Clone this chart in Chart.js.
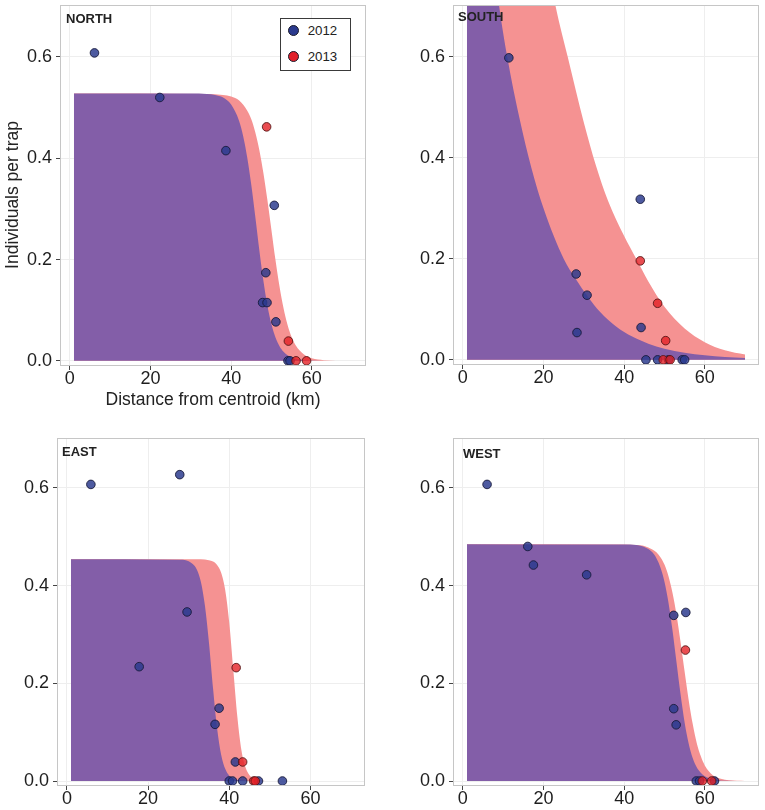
<!DOCTYPE html>
<html>
<head>
<meta charset="utf-8">
<script src="https://cdn.jsdelivr.net/npm/chart.js@4.4.1/dist/chart.umd.min.js"></script>
<style>
html,body{margin:0;padding:0;background:#fff;width:765px;height:810px;overflow:hidden;font-family:"Liberation Sans",Arial,Helvetica,sans-serif;}
.panel{position:absolute;}
.panel canvas{display:block;}
.plab{position:absolute;font-weight:bold;font-size:13px;line-height:13px;color:#222;white-space:nowrap;}
#ytitle{position:absolute;left:-88px;top:185px;width:200px;height:20px;line-height:20px;text-align:center;font-size:17.5px;color:#222;transform:rotate(-90deg);white-space:nowrap;}
#legend{position:absolute;left:280px;top:18px;width:71px;height:53px;border:1px solid #3a3a3a;box-sizing:border-box;background:#fff;}
.lgdot{position:absolute;width:11px;height:11px;border-radius:50%;box-sizing:border-box;border:1px solid #1a1a2a;}
.lgtxt{position:absolute;font-size:13.3px;line-height:16px;height:16px;color:#222;white-space:nowrap;}
</style>
</head>
<body>
<div class="panel" id="pN" style="left:0;top:0;width:380px;height:415px"><canvas id="cN"></canvas></div>
<div class="panel" id="pS" style="left:385px;top:0;width:380px;height:415px"><canvas id="cS"></canvas></div>
<div class="panel" id="pE" style="left:0;top:415px;width:380px;height:395px"><canvas id="cE"></canvas></div>
<div class="panel" id="pW" style="left:385px;top:415px;width:380px;height:395px"><canvas id="cW"></canvas></div>
<div id="ytitle"></div>
<div class="plab" id="labN" style="left:66px;top:12px"></div>
<div class="plab" id="labS" style="left:458px;top:10px"></div>
<div class="plab" id="labE" style="left:62px;top:445px"></div>
<div class="plab" id="labW" style="left:463px;top:447px"></div>
<div id="legend"></div>
<script>
// ---------- data ----------
const panelNames = ['NORTH', 'SOUTH', 'EAST', 'WEST'];
const seriesNames = ['2012', '2013'];
const xTicks = [0, 20, 40, 60];
const xTickLabels = ['0', '20', '40', '60'];
const yTicks = [0, 0.2, 0.4, 0.6];
const yTickLabels = ['0.0', '0.2', '0.4', '0.6'];
const xAxisTitle = 'Distance from centroid (km)';
const yAxisTitle = 'Individuals per trap';

// observed points [distance, individuals per trap]
const north2012 = [[6.1,0.608],[22.3,0.520],[38.7,0.415],[50.7,0.307],[48.6,0.174],[47.8,0.115],[48.9,0.115],[51.1,0.077],[54.1,0],[54.6,0]];
const north2013 = [[48.8,0.462],[54.2,0.039],[56.1,0],[58.7,0]];
const south2012 = [[11.4,0.598],[28.1,0.170],[30.8,0.128],[28.3,0.054],[44.0,0.318],[44.2,0.064],[45.4,0],[48.3,0],[51.0,0],[54.4,0],[55.0,0]];
const south2013 = [[44.0,0.196],[48.3,0.112],[50.3,0.038],[49.7,0],[51.4,0]];
const east2012 = [[5.9,0.607],[27.8,0.627],[29.6,0.346],[17.8,0.234],[37.5,0.149],[36.5,0.116],[41.5,0.039],[40.0,0],[40.8,0],[43.3,0],[47.2,0],[53.1,0]];
const east2013 = [[41.7,0.232],[43.3,0.039],[46.0,0],[46.4,0]];
const west2012 = [[6.0,0.607],[16.1,0.480],[17.5,0.442],[30.7,0.422],[52.3,0.339],[55.3,0.345],[52.3,0.148],[52.9,0.115],[57.9,0],[58.7,0],[62.4,0]];
const west2013 = [[55.2,0.268],[59.4,0],[61.7,0]];

// fitted curves
const northFit2012 = [[1,0.528],[30,0.528],[34,0.527],[36,0.525],[38,0.520],[40,0.506],[42,0.473],[43,0.443],[44,0.401],[45,0.347],[46,0.284],[47,0.218],[48,0.158],[49,0.109],[50,0.072],[51,0.046],[52,0.029],[53,0.018],[54,0.011],[56,0.004],[58,0.0015],[60,0.0005],[65,0.0001],[70,0]];
const northFit2013 = [[1,0.528],[34,0.527],[38,0.525],[40,0.522],[42,0.514],[44,0.494],[45,0.477],[46,0.451],[47,0.416],[48,0.371],[49,0.317],[50,0.258],[51,0.199],[52,0.147],[53,0.104],[54,0.071],[55,0.047],[56,0.031],[58,0.013],[60,0.005],[63,0.0014],[66,0.0004],[70,0.0001]];
const southFit2012 = [[1,1.31],[5,0.96],[9,0.70],[11,0.60],[14,0.48],[17,0.38],[20,0.30],[25,0.20],[28,0.16],[31,0.125],[34,0.095],[38,0.066],[42,0.046],[46,0.032],[50,0.022],[55,0.014],[60,0.009],[65,0.0055],[70,0.0035]];
const southFit2013 = [[1,2.6],[5,2.05],[10,1.5],[15,1.1],[20,0.83],[23,0.70],[26,0.60],[30,0.47],[33,0.385],[36,0.315],[40,0.245],[43,0.200],[46,0.155],[50,0.105],[55,0.062],[60,0.035],[65,0.019],[70,0.0105]];
const eastFit2012 = [[1,0.454],[28,0.453],[30,0.450],[31,0.444],[32,0.433],[33,0.408],[34,0.359],[35,0.283],[36,0.190],[37,0.108],[38,0.054],[39,0.025],[40,0.011],[41,0.005],[42,0.002],[44,0.0004],[46,0.0001],[70,0]];
const eastFit2013 = [[1,0.454],[33,0.454],[35,0.452],[36,0.449],[37,0.442],[38,0.426],[39,0.391],[40,0.324],[41,0.227],[42,0.131],[43,0.063],[44,0.028],[45,0.012],[46,0.005],[47,0.002],[48,0.0008],[50,0.0001],[70,0]];
const westFit2012 = [[1,0.4845],[36,0.484],[40,0.484],[43,0.483],[45,0.479],[47,0.468],[48,0.456],[49,0.437],[50,0.408],[51,0.365],[52,0.308],[53,0.242],[54,0.177],[55,0.120],[56,0.077],[57,0.047],[58,0.028],[59,0.017],[60,0.010],[62,0.0033],[65,0.0006],[70,0.0001]];
const westFit2013 = [[1,0.4845],[40,0.4842],[43,0.483],[45,0.481],[47,0.474],[48,0.468],[49,0.458],[50,0.443],[51,0.419],[52,0.385],[53,0.340],[54,0.284],[55,0.224],[56,0.166],[57,0.117],[58,0.078],[59,0.051],[60,0.032],[62,0.012],[64,0.0046],[66,0.0017],[70,0.0002]];

// ---------- styles ----------
const C = {
  blue: 'rgba(43,58,142,0.84)', blueEdge: 'rgba(25,28,60,0.9)',
  red: 'rgba(228,32,38,0.80)', redEdge: 'rgba(80,20,20,0.85)',
  legBlue: '#2b3a8e', legRed: '#e2202a',
  purple: '#835ea8', pink: '#f59292',
  grid: '#eeeeee', tick: '#444444', text: '#1e1e1e', border: '#c6c6c6'
};
Chart.defaults.font.family = '"Liberation Sans", Arial, Helvetica, sans-serif';

const toXY = arr => arr.map(([x, y]) => ({x, y}));

const panelBorder = {
  id: 'panelBorder',
  afterDatasetsDraw(chart) {
    const {ctx, chartArea: a} = chart;
    ctx.save();
    ctx.strokeStyle = C.border;
    ctx.lineWidth = 1;
    ctx.strokeRect(Math.round(a.left) + 0.5, Math.round(a.top) + 0.5,
                   Math.round(a.right - a.left) - 1, Math.round(a.bottom - a.top) - 1);
    ctx.restore();
  }
};

function makePanel(id, cfg) {
  const pts = (data, fill, edge, label, order) => ({
    type: 'scatter', label, data: toXY(data), order,
    backgroundColor: fill, borderColor: edge, borderWidth: 1,
    pointRadius: 4.3, pointHoverRadius: 4.3, clip: false
  });
  const area = (data, color, label, order) => ({
    type: 'line', label, data: toXY(data), order,
    fill: 'origin', backgroundColor: color, borderColor: 'rgba(0,0,0,0)',
    borderWidth: 0, pointRadius: 0, cubicInterpolationMode: 'monotone'
  });
  return new Chart(document.getElementById(id), {
    type: 'scatter',
    data: {
      datasets: [
        pts(cfg.p13, C.red, C.redEdge, seriesNames[1], 0),
        pts(cfg.p12, C.blue, C.blueEdge, seriesNames[0], 1),
        area(cfg.f12, C.purple, seriesNames[0] + ' fit', 2),
        area(cfg.f13, C.pink, seriesNames[1] + ' fit', 3)
      ]
    },
    options: {
      responsive: true, maintainAspectRatio: false, animation: false,
      devicePixelRatio: 1, events: [],
      layout: { padding: cfg.pad },
      plugins: { legend: { display: false }, title: { display: false }, tooltip: { enabled: false } },
      scales: {
        x: {
          type: 'linear', min: -2.45, max: 73.45,
          afterBuildTicks: s => { s.ticks = xTicks.map(v => ({value: v})); },
          afterFit: s => { s.height = cfg.xh; s.paddingLeft = 0; s.paddingRight = 0; },
          ticks: { callback: (v, i) => xTickLabels[i], font: {size: 18, lineHeight: 1},
                   color: C.text, padding: 0, maxRotation: 0, autoSkip: false },
          grid: { color: C.grid, lineWidth: 1, tickLength: 4, tickColor: C.tick, tickWidth: 1 },
          border: { display: false },
          title: cfg.xTitle ? { display: true, text: xAxisTitle, color: '#222',
                   font: {size: 17.5, lineHeight: 1}, padding: {top: 0, bottom: 6} } : { display: false }
        },
        y: {
          type: 'linear', min: -0.0102, max: 0.702,
          afterBuildTicks: s => { s.ticks = yTicks.map(v => ({value: v})); },
          afterFit: s => { s.width = cfg.yw; s.paddingTop = 0; s.paddingBottom = 0; },
          ticks: { callback: (v, i) => yTickLabels[i], font: {size: 18, lineHeight: 1},
                   color: C.text, padding: 4, autoSkip: false },
          grid: { color: C.grid, lineWidth: 1, tickLength: 4, tickColor: C.tick, tickWidth: 1 },
          border: { display: false },
          title: { display: false }
        }
      }
    },
    plugins: [panelBorder]
  });
}

makePanel('cN', { p12: north2012, p13: north2013, f12: northFit2012, f13: northFit2013,
  pad: {left: 0, top: 5, right: 14, bottom: 0}, yw: 60, xh: 49, xTitle: true });
makePanel('cS', { p12: south2012, p13: south2013, f12: southFit2012, f13: southFit2013,
  pad: {left: 0, top: 5, right: 6, bottom: 0}, yw: 68, xh: 50, xTitle: false });
makePanel('cE', { p12: east2012, p13: east2013, f12: eastFit2012, f13: eastFit2013,
  pad: {left: 0, top: 23, right: 15, bottom: 0}, yw: 57, xh: 24, xTitle: false });
makePanel('cW', { p12: west2012, p13: west2013, f12: westFit2012, f13: westFit2013,
  pad: {left: 0, top: 23, right: 6, bottom: 0}, yw: 68, xh: 24, xTitle: false });

// text overlays
document.getElementById('ytitle').textContent = yAxisTitle;
['labN', 'labS', 'labE', 'labW'].forEach((id, i) => { document.getElementById(id).textContent = panelNames[i]; });
const leg = document.getElementById('legend');
[[C.legBlue, 12.7], [C.legRed, 38.7]].forEach(([col, cy], i) => {
  const d = document.createElement('div');
  d.className = 'lgdot';
  d.style.left = (13.3 - 5.5 - 1) + 'px';
  d.style.top = (cy - 5.5 - 1) + 'px';
  d.style.background = col;
  leg.appendChild(d);
  const t = document.createElement('div');
  t.className = 'lgtxt';
  t.style.left = (27.7 - 1) + 'px';
  t.style.top = (cy - 8 - 1) + 'px';
  t.textContent = seriesNames[i];
  leg.appendChild(t);
});
</script>
</body>
</html>
